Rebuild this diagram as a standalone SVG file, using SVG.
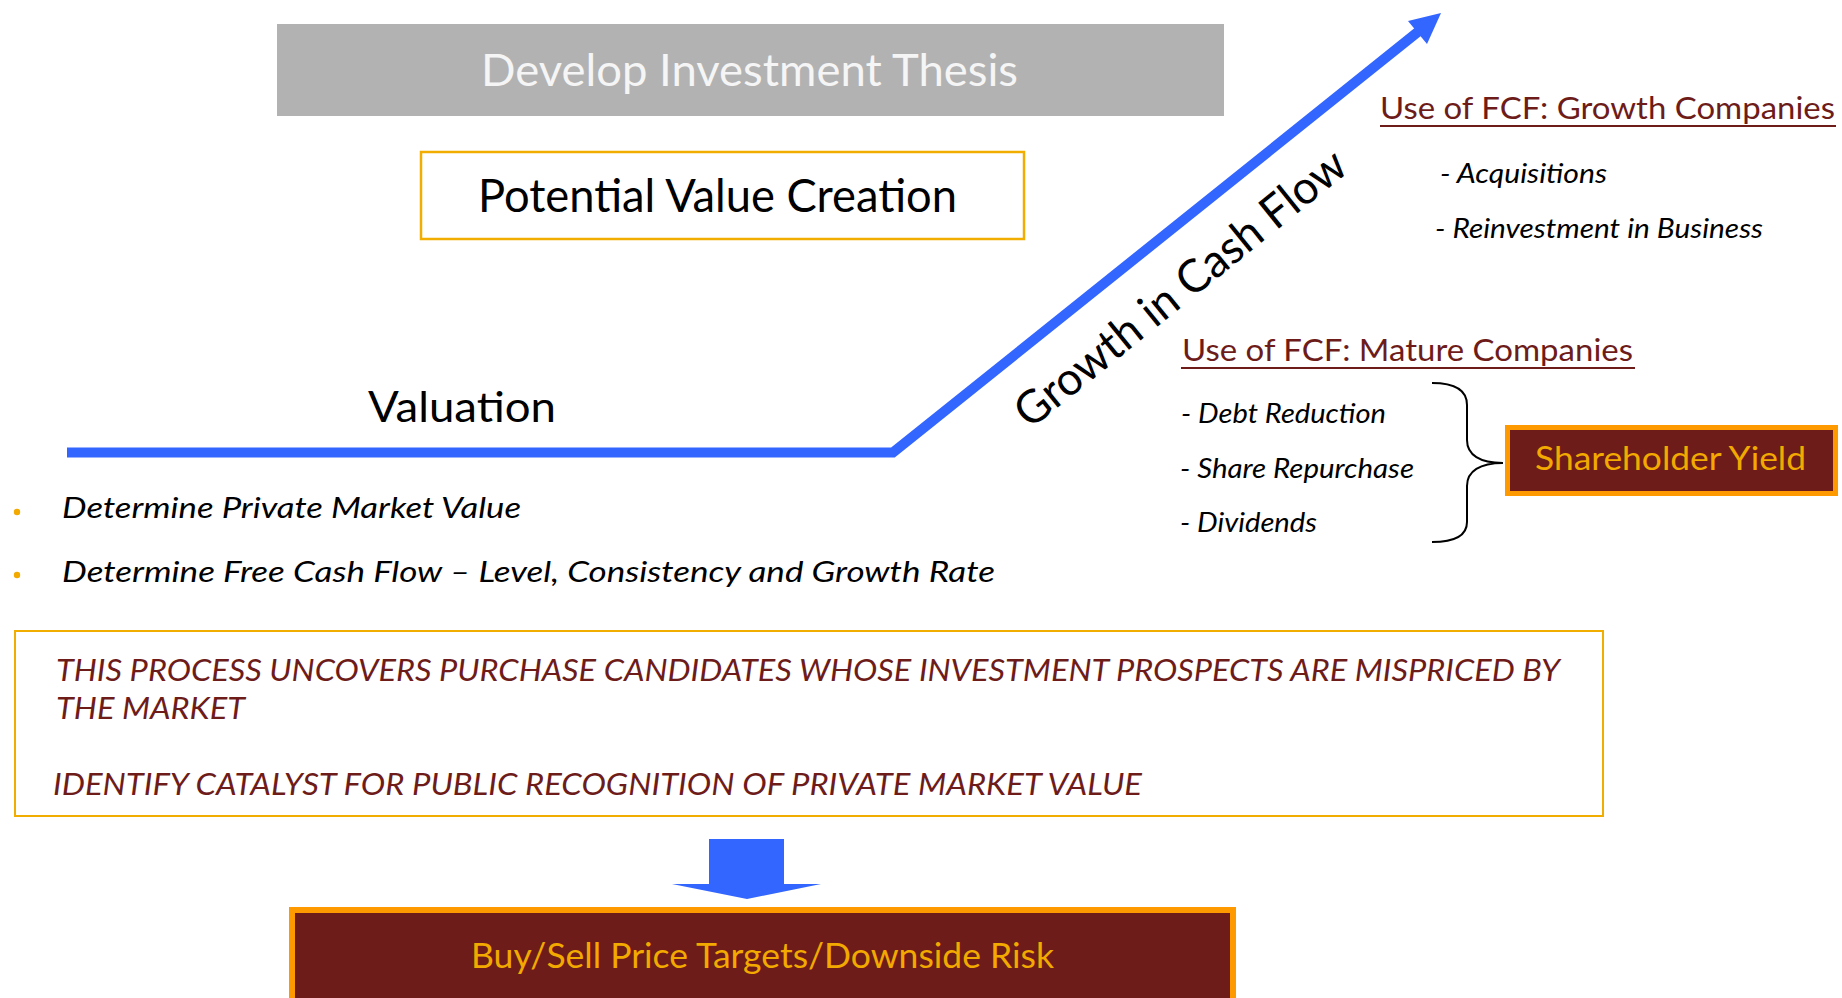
<svg xmlns="http://www.w3.org/2000/svg" width="1842" height="998" viewBox="0 0 1842 998">
<defs>
<style>
.f{font-family:Lato,"Open Sans","Liberation Sans",sans-serif}
.i{font-style:italic}
.mar{fill:#6d1c1a}
.blk{fill:#000}
.gold{fill:#f2a900}
.ul{stroke:#6d1c1a;stroke-width:2}
.flow{fill:none;stroke:#3366ff;stroke-width:10;stroke-linejoin:miter}
</style>
</defs>
<rect width="1842" height="998" fill="#fff"/>
<g id="connectors">
<polyline class="flow" points="67,452.5 893,452.5 1419,31"/>
<polygon points="1441,13 1408,21 1427,44" fill="#3366ff"/>
<polygon points="709,839 784,839 784,884 821,884 747,899 672,884 709,884" fill="#3366ff"/>
<path d="M1432,383 C1455,383 1467,390 1467,405 L1467,440 C1467,455 1480,463 1503,463 C1480,463 1467,471 1467,486 L1467,522 C1467,535 1455,542 1432,542" fill="none" stroke="#000" stroke-width="2"/>
</g>
<g id="thesis">
<rect x="277" y="24" width="947" height="92" fill="#b2b2b2"/>
<text class="f" x="481" y="86" font-size="44" fill="#f5f5f5" textLength="537" lengthAdjust="spacingAndGlyphs">Develop Investment Thesis</text>
</g>
<g id="potential">
<rect x="421" y="152" width="603" height="87" fill="#fff" stroke="#f2ae00" stroke-width="2.5"/>
<text class="f blk" x="478" y="212" font-size="46" textLength="479" lengthAdjust="spacingAndGlyphs">Potential Value Creation</text>
</g>
<g id="valuation">
<text class="f blk" x="368" y="422" font-size="43" textLength="188" lengthAdjust="spacingAndGlyphs">Valuation</text>
</g>
<g id="growth-label">
<text class="f blk" font-size="46" transform="translate(1030,430) rotate(-39)" textLength="412" lengthAdjust="spacingAndGlyphs">Growth in Cash Flow</text>
</g>
<g id="growth-uses">
<text class="f mar" x="1380" y="119" font-size="31" textLength="455" lengthAdjust="spacingAndGlyphs">Use of FCF: Growth Companies</text>
<line class="ul" x1="1380" y1="126" x2="1836" y2="126"/>
<text class="f i blk" x="1440" y="183" font-size="27" textLength="167" lengthAdjust="spacingAndGlyphs">- Acquisitions</text>
<text class="f i blk" x="1435" y="238" font-size="27" textLength="328" lengthAdjust="spacingAndGlyphs">- Reinvestment in Business</text>
</g>
<g id="mature-uses">
<text class="f mar" x="1182" y="361" font-size="31" textLength="451" lengthAdjust="spacingAndGlyphs">Use of FCF: Mature Companies</text>
<line class="ul" x1="1181" y1="368" x2="1635" y2="368"/>
<text class="f i blk" x="1181" y="423" font-size="27" textLength="205" lengthAdjust="spacingAndGlyphs">- Debt Reduction</text>
<text class="f i blk" x="1180" y="478" font-size="27" textLength="234" lengthAdjust="spacingAndGlyphs">- Share Repurchase</text>
<text class="f i blk" x="1180" y="532" font-size="27" textLength="137" lengthAdjust="spacingAndGlyphs">- Dividends</text>
</g>
<g id="shareholder-yield">
<rect x="1507.5" y="427.5" width="328" height="66" fill="#6d1c1a" stroke="#ff9900" stroke-width="5"/>
<text class="f gold" x="1535" y="470" font-size="32" textLength="271" lengthAdjust="spacingAndGlyphs">Shareholder Yield</text>
</g>
<g id="valuation-bullets">
<circle cx="17" cy="512" r="3.2" fill="#f2a900"/>
<text class="f i blk" x="62" y="518" font-size="29" textLength="459" lengthAdjust="spacingAndGlyphs">Determine Private Market Value</text>
<circle cx="17" cy="575" r="3.2" fill="#f2a900"/>
<text class="f i blk" x="62" y="582" font-size="29" textLength="933" lengthAdjust="spacingAndGlyphs">Determine Free Cash Flow – Level, Consistency and Growth Rate</text>
</g>
<g id="process">
<rect x="15" y="631" width="1588" height="185" fill="#fff" stroke="#f2ae00" stroke-width="2"/>
<text class="f i mar" x="56" y="681" font-size="30" textLength="1504" lengthAdjust="spacingAndGlyphs">THIS PROCESS UNCOVERS PURCHASE CANDIDATES WHOSE INVESTMENT PROSPECTS ARE MISPRICED BY</text>
<text class="f i mar" x="56" y="719" font-size="30" textLength="189" lengthAdjust="spacingAndGlyphs">THE MARKET</text>
<text class="f i mar" x="53" y="795" font-size="30" textLength="1089" lengthAdjust="spacingAndGlyphs">IDENTIFY CATALYST FOR PUBLIC RECOGNITION OF PRIVATE MARKET VALUE</text>
</g>
<g id="targets">
<rect x="292" y="910" width="941" height="110" fill="#6d1c1a" stroke="#ff9900" stroke-width="6"/>
<text class="f gold" x="471" y="968" font-size="35" textLength="583" lengthAdjust="spacingAndGlyphs">Buy/Sell Price Targets/Downside Risk</text>
</g>
</svg>
